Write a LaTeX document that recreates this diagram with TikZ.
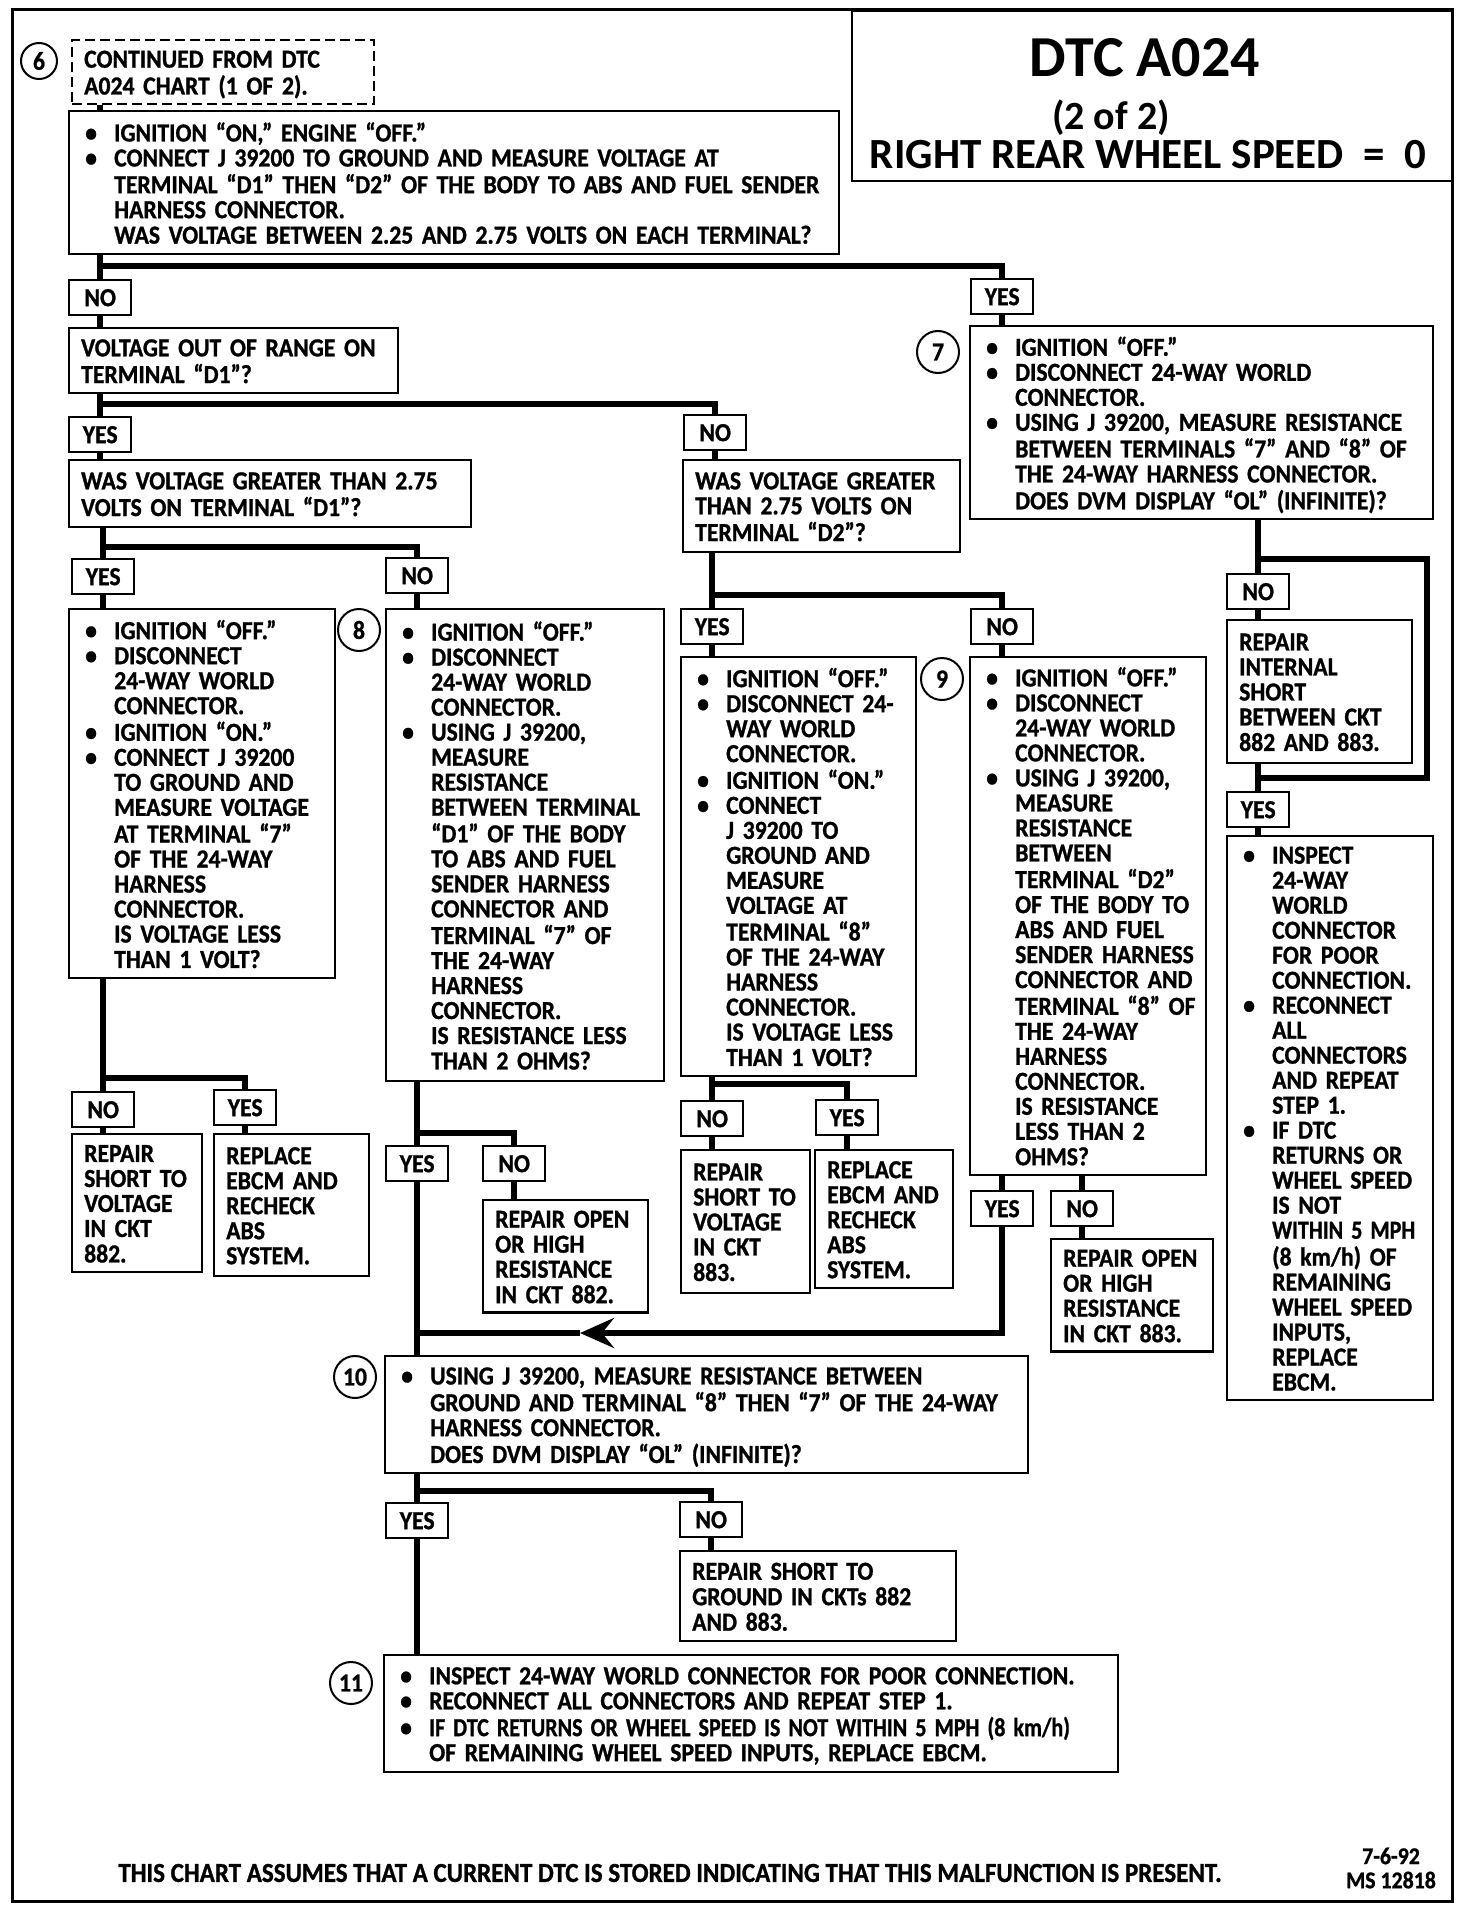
\documentclass[tikz,border=0pt]{standalone}
\usepackage{fontspec}
\usepackage{graphicx}
\setmainfont{Carlito}[BoldFeatures={FakeStretch=0.91, FakeBold=1}]
\newfontfamily\headfont{Carlito}
\usetikzlibrary{arrows.meta}

\newcommand{\chartfont}{\fontsize{26}{25}\selectfont\bfseries}
\newcommand{\tight}[1]{\scalebox{0.93}[1]{#1}}
\newcommand{\bu}{\textbullet}
\newcommand{\boxlines}[1]{\begin{tabular}{@{}l@{}}\noalign{\vskip 8pt}#1\end{tabular}}
\newcommand{\bulletlines}[1]{\begin{tabular}{@{}p{29pt}@{}l@{}}\noalign{\vskip 8pt}#1\end{tabular}}

\begin{document}
\begin{tikzpicture}[x=1pt, y=-1pt,
  box/.style={draw, line width=2.4pt, anchor=north west, inner xsep=12pt, inner ysep=2pt, font=\chartfont},
  chk/.style={box, inner xsep=16pt},
  dbox/.style={box, dash pattern=on 10pt off 5pt},
  lbl/.style={draw, line width=2.4pt, anchor=north west, minimum width=62pt, minimum height=35pt, inner sep=0pt, font=\chartfont},
  stepnum/.style={circle, draw, line width=2pt, minimum size=42pt, inner sep=0pt, font=\chartfont},
  conn/.style={line width=6pt}
]
  \useasboundingbox (0,0) rectangle (1472,1910);
  \draw[line width=3pt] (12,10) rectangle (1452,1901);

  % Title block
  \node[box, minimum width=601pt, minimum height=170pt] (title) at (851,10) {};
  \node[font=\fontsize{58}{58}\selectfont\headfont\bfseries] (ttl) at (1145,58) {DTC A024};
  \node[font=\fontsize{40}{40}\selectfont\headfont\bfseries] (part) at (1111,118) {(2 of 2)};
  \node[font=\fontsize{43}{43}\selectfont\headfont\bfseries] (subj) at (1148,155) {RIGHT REAR WHEEL SPEED \ = \ 0};

  % Step numbers
  \node[stepnum, minimum size=36pt] (s6) at (39,61) {6};
  \node[stepnum] (s7) at (938,352) {7};
  \node[stepnum] (s8) at (359,630) {8};
  \node[stepnum] (s9) at (942,679) {9};
  \node[stepnum] (s10) at (355,1377) {10};
  \node[stepnum] (s11) at (351,1683) {11};

  % Top of chart
  \node[dbox, text width=278pt, minimum height=58pt] (cont) at (71,39)
    {\boxlines{CONTINUED FROM DTC\\ A024 CHART (1 OF 2).}};
  \node[chk, text width=738pt, minimum height=143pt] (ign1) at (68,110)
    {\bulletlines{\bu & IGNITION “ON,” ENGINE “OFF.”\\
      \bu & CONNECT J 39200 TO GROUND AND MEASURE VOLTAGE AT\\
      & TERMINAL “D1” THEN “D2” OF THE BODY TO ABS AND FUEL SENDER\\
      & HARNESS CONNECTOR.\\
      & WAS VOLTAGE BETWEEN 2.25 AND 2.75 VOLTS ON EACH TERMINAL?}};
  \node[lbl] (no1) at (68,279) {NO};
  \node[lbl] (yes1) at (970,278) {YES};

  % Voltage out of range
  \node[box, text width=305pt, minimum height=65pt] (range) at (68,327)
    {\boxlines{VOLTAGE OUT OF RANGE ON\\ TERMINAL “D1”?}};
  \node[lbl] (yes2) at (68,416) {YES};
  \node[lbl] (no2) at (683,414) {NO};
  \node[box, text width=378pt, minimum height=67pt] (gtd1) at (68,459)
    {\boxlines{WAS VOLTAGE GREATER THAN 2.75\\ VOLTS ON TERMINAL “D1”?}};
  \node[box, text width=253pt, minimum height=92pt] (gtd2) at (682,459)
    {\boxlines{WAS VOLTAGE GREATER\\ THAN 2.75 VOLTS ON\\ TERMINAL “D2”?}};

  % Step 7
  \node[chk, text width=431pt, minimum height=193pt] (chk7) at (969,325)
    {\bulletlines{\bu & IGNITION “OFF.”\\
      \bu & DISCONNECT 24-WAY WORLD\\
      & CONNECTOR.\\
      \bu & USING J 39200, MEASURE RESISTANCE\\
      & BETWEEN TERMINALS “7” AND “8” OF\\
      & THE 24-WAY HARNESS CONNECTOR.\\
      & DOES DVM DISPLAY “OL” (INFINITE)?}};
  \node[lbl] (no5) at (1226,573) {NO};
  \node[box, text width=161pt, minimum height=143pt] (intshort) at (1226,619)
    {\boxlines{REPAIR\\ INTERNAL\\ SHORT\\ BETWEEN CKT\\ 882 AND 883.}};
  \node[lbl] (yes5) at (1226,791) {YES};
  \node[chk, text width=174pt, minimum height=563pt] (inspect) at (1226,835)
    {\bulletlines{\bu & INSPECT\\ & 24-WAY\\ & WORLD\\ & CONNECTOR\\ & FOR POOR\\ & CONNECTION.\\
      \bu & RECONNECT\\ & ALL\\ & CONNECTORS\\ & AND REPEAT\\ & STEP 1.\\
      \bu & IF DTC\\ & RETURNS OR\\ & WHEEL SPEED\\ & IS NOT\\ & \tight{WITHIN 5 MPH}\\ & (8 km/h) OF\\
      & REMAINING\\ & WHEEL SPEED\\ & INPUTS,\\ & REPLACE\\ & EBCM.}};

  % D1 branch
  \node[lbl] (yes3) at (71,558) {YES};
  \node[lbl] (no3) at (385,557) {NO};
  \node[chk, text width=234pt, minimum height=369pt] (chkd1) at (68,608)
    {\bulletlines{\bu & IGNITION “OFF.”\\
      \bu & DISCONNECT\\ & 24-WAY WORLD\\ & CONNECTOR.\\
      \bu & IGNITION “ON.”\\
      \bu & CONNECT J 39200\\ & TO GROUND AND\\ & MEASURE VOLTAGE\\ & AT TERMINAL “7”\\
      & OF THE 24-WAY\\ & HARNESS\\ & CONNECTOR.\\ & IS VOLTAGE LESS\\ & THAN 1 VOLT?}};
  \node[chk, text width=246pt, minimum height=472pt] (chk8) at (385,608)
    {\bulletlines{\bu & IGNITION “OFF.”\\
      \bu & DISCONNECT\\ & 24-WAY WORLD\\ & CONNECTOR.\\
      \bu & USING J 39200,\\ & MEASURE\\ & RESISTANCE\\ & BETWEEN TERMINAL\\ & “D1” OF THE BODY\\
      & TO ABS AND FUEL\\ & SENDER HARNESS\\ & CONNECTOR AND\\ & TERMINAL “7” OF\\
      & THE 24-WAY\\ & HARNESS\\ & CONNECTOR.\\ & IS RESISTANCE LESS\\ & THAN 2 OHMS?}};
  \node[lbl] (no6) at (71,1091) {NO};
  \node[lbl] (yes6) at (213,1089) {YES};
  \node[box, text width=106pt, minimum height=138pt] (sv882) at (71,1133)
    {\boxlines{REPAIR\\ SHORT TO\\ VOLTAGE\\ IN CKT\\ 882.}};
  \node[box, text width=131pt, minimum height=142pt] (ebcm1) at (213,1133)
    {\boxlines{REPLACE\\ EBCM AND\\ RECHECK\\ ABS\\ SYSTEM.}};
  \node[lbl] (yes7) at (385,1145) {YES};
  \node[lbl] (no7) at (482,1145) {NO};
  \node[box, text width=141pt, minimum height=111pt] (open882) at (482,1199)
    {\boxlines{REPAIR OPEN\\ OR HIGH\\ RESISTANCE\\ IN CKT 882.}};

  % D2 branch
  \node[lbl] (yes4) at (680,608) {YES};
  \node[lbl] (no4) at (970,608) {NO};
  \node[chk, text width=203pt, minimum height=419pt] (chkd2) at (680,656)
    {\bulletlines{\bu & IGNITION “OFF.”\\
      \bu & DISCONNECT 24-\\ & WAY WORLD\\ & CONNECTOR.\\
      \bu & IGNITION “ON.”\\
      \bu & CONNECT\\ & J 39200 TO\\ & GROUND AND\\ & MEASURE\\ & VOLTAGE AT\\ & TERMINAL “8”\\
      & OF THE 24-WAY\\ & HARNESS\\ & CONNECTOR.\\ & IS VOLTAGE LESS\\ & THAN 1 VOLT?}};
  \node[chk, text width=204pt, minimum height=514pt] (chk9) at (969,656)
    {\bulletlines{\bu & IGNITION “OFF.”\\
      \bu & DISCONNECT\\ & 24-WAY WORLD\\ & CONNECTOR.\\
      \bu & USING J 39200,\\ & MEASURE\\ & RESISTANCE\\ & BETWEEN\\ & TERMINAL “D2”\\
      & OF THE BODY TO\\ & ABS AND FUEL\\ & SENDER HARNESS\\ & CONNECTOR AND\\ & TERMINAL “8” OF\\
      & THE 24-WAY\\ & HARNESS\\ & CONNECTOR.\\ & IS RESISTANCE\\ & LESS THAN 2\\ & OHMS?}};
  \node[lbl] (no8) at (680,1100) {NO};
  \node[lbl] (yes8) at (815,1099) {YES};
  \node[box, text width=105pt, minimum height=143pt] (sv883) at (680,1149)
    {\boxlines{REPAIR\\ SHORT TO\\ VOLTAGE\\ IN CKT\\ 883.}};
  \node[box, text width=114pt, minimum height=138pt] (ebcm2) at (814,1149)
    {\boxlines{REPLACE\\ EBCM AND\\ RECHECK\\ ABS\\ SYSTEM.}};
  \node[lbl] (yes9) at (970,1190) {YES};
  \node[lbl] (no9) at (1050,1190) {NO};
  \node[box, text width=138pt, minimum height=112pt] (open883) at (1050,1238)
    {\boxlines{REPAIR OPEN\\ OR HIGH\\ RESISTANCE\\ IN CKT 883.}};

  % Steps 10 and 11
  \node[chk, text width=611pt, minimum height=117pt] (chk10) at (384,1355)
    {\bulletlines{\bu & USING J 39200, MEASURE RESISTANCE BETWEEN\\
      & GROUND AND TERMINAL “8” THEN “7” OF THE 24-WAY\\
      & HARNESS CONNECTOR.\\
      & DOES DVM DISPLAY “OL” (INFINITE)?}};
  \node[lbl] (yes10) at (385,1502) {YES};
  \node[lbl] (no10) at (679,1501) {NO};
  \node[box, text width=252pt, minimum height=90pt] (gnd) at (679,1550)
    {\boxlines{REPAIR SHORT TO\\ GROUND IN CKTs 882\\ AND 883.}};
  \node[chk, text width=702pt, minimum height=117pt] (chk11) at (383,1654)
    {\bulletlines{\bu & INSPECT 24-WAY WORLD CONNECTOR FOR POOR CONNECTION.\\
      \bu & RECONNECT ALL CONNECTORS AND REPEAT STEP 1.\\
      \bu & \tight{IF DTC RETURNS OR WHEEL SPEED IS NOT WITHIN 5 MPH (8 km/h)}\\
      & OF REMAINING WHEEL SPEED INPUTS, REPLACE EBCM.}};

  % Footer
  \node[font=\fontsize{27.5}{27.5}\selectfont\bfseries] (note) at (670,1873)
    {THIS CHART ASSUMES THAT A CURRENT DTC IS STORED INDICATING THAT THIS MALFUNCTION IS PRESENT.};
  \node[font=\fontsize{24}{24}\selectfont\bfseries] (date) at (1391,1856) {7-6-92};
  \node[font=\fontsize{24}{24}\selectfont\bfseries] (ms) at (1391,1880) {MS 12818};

  % Connectors
  \draw[conn] (cont.south -| no1) -- (ign1.north -| no1);
  \draw[conn] (ign1.south -| no1) -- (no1.north);
  \draw[conn] (ign1.south -| no1) ++(0,11) -| (yes1.north);
  \draw[conn] (no1.south) -- (range.north -| no1);
  \draw[conn] (yes1.south) -- (chk7.north -| yes1);

  \draw[conn] (range.south -| yes2) -- (yes2.north);
  \draw[conn] (range.south -| yes2) ++(0,10) -| (no2.north);
  \draw[conn] (yes2.south) -- (gtd1.north -| yes2);
  \draw[conn] (no2.south) -- (gtd2.north -| no2);

  \draw[conn] (gtd1.south -| yes3) -- (yes3.north);
  \draw[conn] (gtd1.south -| yes3) ++(0,19) -| (no3.north);
  \draw[conn] (yes3.south) -- (chkd1.north -| yes3);
  \draw[conn] (no3.south) -- (chk8.north -| no3);

  \draw[conn] (gtd2.south -| yes4) -- (yes4.north);
  \draw[conn] (gtd2.south -| yes4) ++(0,42) -| (no4.north);
  \draw[conn] (yes4.south) -- (chkd2.north -| yes4);
  \draw[conn] (no4.south) -- (chk9.north -| no4);

  \draw[conn] (chk7.south -| no5) -- (no5.north);
  \draw[conn] (chk7.south -| no5) ++(0,39) -- ++(169,0) -- ++(0,219) -| (yes5.north);
  \draw[conn] (no5.south) -- (intshort.north -| no5);
  \draw[conn] (intshort.south -| yes5) -- (yes5.north);
  \draw[conn] (yes5.south) -- (inspect.north -| yes5);

  \draw[conn] (chkd1.south -| no6) -- (no6.north);
  \draw[conn] (chkd1.south -| no6) ++(0,99) -| (yes6.north);
  \draw[conn] (no6.south) -- (sv882.north -| no6);
  \draw[conn] (yes6.south) -- (ebcm1.north -| yes6);

  \draw[conn] (chk8.south -| yes7) -- (yes7.north);
  \draw[conn] (chk8.south -| yes7) ++(0,51) -| (no7.north);
  \draw[conn] (no7.south) -- (open882.north -| no7);
  \draw[conn] (yes7.south) -- (chk10.north -| yes7);

  \draw[conn] (chkd2.south -| no8) -- (no8.north);
  \draw[conn] (chkd2.south -| no8) ++(0,7) -| (yes8.north);
  \draw[conn] (no8.south) -- (sv883.north -| no8);
  \draw[conn] (yes8.south) -- (ebcm2.north -| yes8);

  \draw[conn] (chk9.south -| yes9) -- (yes9.north);
  \draw[conn] (chk9.south -| no9) -- (no9.north);
  \draw[conn] (no9.south) -- (open883.north -| no9);

  % Return arrow from step 9
  \coordinate (ret) at (580,1333);
  \draw[conn, -{Stealth[length=34pt, width=30pt, inset=12pt]}] (yes9.south) |- (ret);
  \draw[conn] (ret) -- (ret -| yes7);

  \draw[conn] (chk10.south -| yes10) -- (yes10.north);
  \draw[conn] (chk10.south -| yes10) ++(0,17) -| (no10.north);
  \draw[conn] (no10.south) -- (gnd.north -| no10);
  \draw[conn] (yes10.south) -- (chk11.north -| yes10);
\end{tikzpicture}
\end{document}
